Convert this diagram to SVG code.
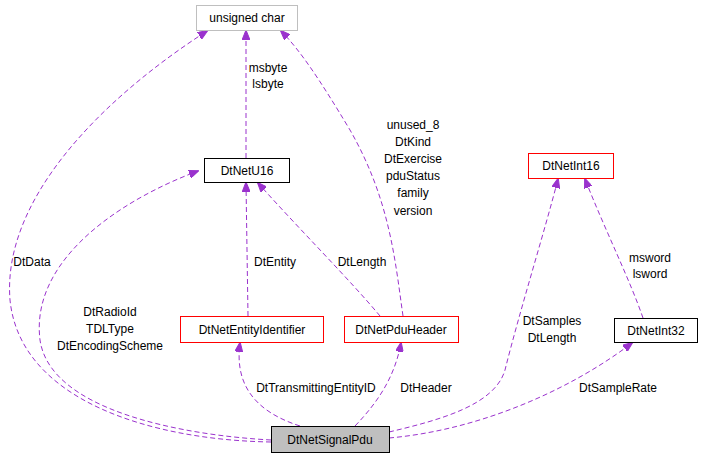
<svg xmlns="http://www.w3.org/2000/svg" width="701" height="459" viewBox="0 0 701 459">
<style>
text{font-family:"Liberation Sans",Arial,sans-serif;font-size:12px;fill:#000;text-anchor:middle}
.n{fill:#fff;stroke:#000;stroke-width:1}
.r{fill:#fff;stroke:#ff0000;stroke-width:1}
.g{fill:#fff;stroke:#bfbfbf;stroke-width:1}
.e{fill:none;stroke:#9a32cd;stroke-width:1;stroke-dasharray:5,3;marker-end:url(#a)}
</style>
<defs><marker id="a" markerWidth="10" markerHeight="8" refX="9" refY="4" orient="auto" markerUnits="userSpaceOnUse"><path d="M0,0 L10,4 L0,8 z" fill="#9a32cd" stroke="#9a32cd"/></marker></defs>
<g id="edges">
<path class="e" d="M246,158 L246,31"/>
<path class="e" d="M403,316 C395,260 390,200 350,130 C320,80 300,50 281,31"/>
<path class="e" d="M271,442 C150,440 20,400 10,300 C2,200 100,100 207,31"/>
<path class="e" d="M271,440 C180,435 50,410 40,340 C30,260 120,200 198,171"/>
<path class="e" d="M248,316 L246,183"/>
<path class="e" d="M380,316 C350,280 300,230 258,183"/>
<path class="e" d="M643,318 C630,280 605,230 585,179"/>
<path class="e" d="M389,432 C440,420 495,405 505,370 C520,310 545,230 558,179"/>
<path class="e" d="M300,426 C250,410 235,380 240,343"/>
<path class="e" d="M355,426 C380,400 395,375 401,343"/>
<path class="e" d="M389,438 C480,430 570,390 632,343"/>
</g>
<g id="edge-labels">
<text x="268" y="72">msbyte</text><text x="268" y="88">lsbyte</text>
<text x="413" y="129">unused_8</text><text x="413" y="146">DtKind</text><text x="413" y="163">DtExercise</text><text x="413" y="180">pduStatus</text><text x="413" y="197">family</text><text x="413" y="215">version</text>
<text x="32" y="266">DtData</text>
<text x="110" y="316">DtRadioId</text><text x="110" y="333">TDLType</text><text x="110" y="350">DtEncodingScheme</text>
<text x="275" y="266">DtEntity</text>
<text x="362" y="266">DtLength</text>
<text x="650" y="262">msword</text><text x="650" y="278">lsword</text>
<text x="552" y="325">DtSamples</text><text x="552" y="342">DtLength</text>
<text x="316" y="392">DtTransmittingEntityID</text>
<text x="426" y="392">DtHeader</text>
<text x="618" y="392">DtSampleRate</text>
</g>
<g id="unsigned-char"><rect class="g" x="196.5" y="5.5" width="101" height="25"/><text x="247" y="22">unsigned char</text></g>
<g id="DtNetU16"><rect class="n" x="204.5" y="158.5" width="85" height="24"/><text x="247" y="175">DtNetU16</text></g>
<g id="DtNetInt16"><rect class="r" x="528.5" y="153.5" width="85" height="25"/><text x="571" y="170">DtNetInt16</text></g>
<g id="DtNetEntityIdentifier"><rect class="r" x="180.5" y="316.5" width="143" height="26"/><text x="252" y="334">DtNetEntityIdentifier</text></g>
<g id="DtNetPduHeader"><rect class="r" x="344.5" y="316.5" width="114" height="26"/><text x="401" y="334">DtNetPduHeader</text></g>
<g id="DtNetInt32"><rect class="n" x="614.5" y="318.5" width="83" height="24"/><text x="656" y="335">DtNetInt32</text></g>
<g id="DtNetSignalPdu"><rect x="271.5" y="426.5" width="118" height="26" fill="#bfbfbf" stroke="#000"/><text x="330" y="444">DtNetSignalPdu</text></g>
</svg>
